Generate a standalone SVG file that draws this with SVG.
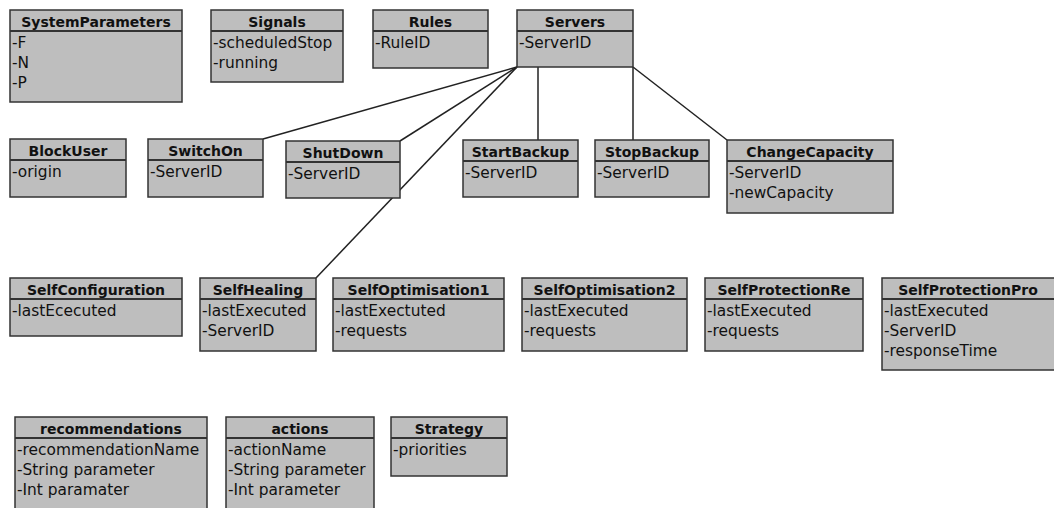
<svg xmlns="http://www.w3.org/2000/svg" width="1054" height="508" viewBox="0 0 1054 508">
<style>
.box{fill:#bebebe;stroke:#333;stroke-width:1.5}
.sep{stroke:#333;stroke-width:2}
.t{font-family:"DejaVu Sans","Liberation Sans",sans-serif;font-size:14px;font-weight:bold;fill:#111;text-anchor:middle}
.a{font-family:"DejaVu Sans","Liberation Sans",sans-serif;font-size:15.4px;fill:#111}
.c{stroke:#222;stroke-width:1.5;fill:none}
</style>
<rect width="1054" height="508" fill="#fff"/>
<g id="connectors">
<line class="c" x1="517" y1="67" x2="263" y2="139"/>
<line class="c" x1="517" y1="67" x2="400" y2="141"/>
<line class="c" x1="517" y1="67" x2="316" y2="278"/>
<line class="c" x1="538" y1="67" x2="538" y2="140"/>
<line class="c" x1="633" y1="67" x2="633" y2="140"/>
<line class="c" x1="633" y1="67" x2="727" y2="140"/>
</g>
<g id="SystemParameters"><rect class="box" x="10" y="10" width="172" height="92"/><line class="sep" x1="10" y1="31" x2="182" y2="31"/><text class="t" x="96" y="27">SystemParameters</text><text class="a" x="12" y="48">-F</text><text class="a" x="12" y="68">-N</text><text class="a" x="12" y="88">-P</text></g>
<g id="Signals"><rect class="box" x="211" y="10" width="132" height="72"/><line class="sep" x1="211" y1="31" x2="343" y2="31"/><text class="t" x="277" y="27">Signals</text><text class="a" x="213" y="48">-scheduledStop</text><text class="a" x="213" y="68">-running</text></g>
<g id="Rules"><rect class="box" x="373" y="10" width="115" height="58"/><line class="sep" x1="373" y1="31" x2="488" y2="31"/><text class="t" x="430.5" y="27">Rules</text><text class="a" x="375" y="48">-RuleID</text></g>
<g id="Servers"><rect class="box" x="517" y="10" width="116" height="57"/><line class="sep" x1="517" y1="31" x2="633" y2="31"/><text class="t" x="575" y="27">Servers</text><text class="a" x="519" y="48">-ServerID</text></g>
<g id="BlockUser"><rect class="box" x="10" y="139" width="116" height="58"/><line class="sep" x1="10" y1="160" x2="126" y2="160"/><text class="t" x="68" y="156">BlockUser</text><text class="a" x="12" y="177">-origin</text></g>
<g id="SwitchOn"><rect class="box" x="148" y="139" width="115" height="58"/><line class="sep" x1="148" y1="160" x2="263" y2="160"/><text class="t" x="205.5" y="156">SwitchOn</text><text class="a" x="150" y="177">-ServerID</text></g>
<g id="ShutDown"><rect class="box" x="286" y="141" width="114" height="57"/><line class="sep" x1="286" y1="162" x2="400" y2="162"/><text class="t" x="343" y="158">ShutDown</text><text class="a" x="288" y="179">-ServerID</text></g>
<g id="StartBackup"><rect class="box" x="463" y="140" width="115" height="57"/><line class="sep" x1="463" y1="161" x2="578" y2="161"/><text class="t" x="520.5" y="157">StartBackup</text><text class="a" x="465" y="178">-ServerID</text></g>
<g id="StopBackup"><rect class="box" x="595" y="140" width="114" height="57"/><line class="sep" x1="595" y1="161" x2="709" y2="161"/><text class="t" x="652" y="157">StopBackup</text><text class="a" x="597" y="178">-ServerID</text></g>
<g id="ChangeCapacity"><rect class="box" x="727" y="140" width="166" height="73"/><line class="sep" x1="727" y1="161" x2="893" y2="161"/><text class="t" x="810" y="157">ChangeCapacity</text><text class="a" x="729" y="178">-ServerID</text><text class="a" x="729" y="198">-newCapacity</text></g>
<g id="SelfConfiguration"><rect class="box" x="10" y="278" width="172" height="58"/><line class="sep" x1="10" y1="299" x2="182" y2="299"/><text class="t" x="96" y="295">SelfConfiguration</text><text class="a" x="12" y="316">-lastEcecuted</text></g>
<g id="SelfHealing"><rect class="box" x="200" y="278" width="116" height="73"/><line class="sep" x1="200" y1="299" x2="316" y2="299"/><text class="t" x="258" y="295">SelfHealing</text><text class="a" x="202" y="316">-lastExecuted</text><text class="a" x="202" y="336">-ServerID</text></g>
<g id="SelfOptimisation1"><rect class="box" x="333" y="278" width="171" height="73"/><line class="sep" x1="333" y1="299" x2="504" y2="299"/><text class="t" x="418.5" y="295">SelfOptimisation1</text><text class="a" x="335" y="316">-lastExectuted</text><text class="a" x="335" y="336">-requests</text></g>
<g id="SelfOptimisation2"><rect class="box" x="522" y="278" width="165" height="73"/><line class="sep" x1="522" y1="299" x2="687" y2="299"/><text class="t" x="604.5" y="295">SelfOptimisation2</text><text class="a" x="524" y="316">-lastExecuted</text><text class="a" x="524" y="336">-requests</text></g>
<g id="SelfProtectionRe"><rect class="box" x="705" y="278" width="158" height="73"/><line class="sep" x1="705" y1="299" x2="863" y2="299"/><text class="t" x="784" y="295">SelfProtectionRe</text><text class="a" x="707" y="316">-lastExecuted</text><text class="a" x="707" y="336">-requests</text></g>
<g id="SelfProtectionPro"><rect class="box" x="882" y="278" width="180" height="92"/><line class="sep" x1="882" y1="299" x2="1062" y2="299"/><text class="t" x="968" y="295">SelfProtectionPro</text><text class="a" x="884" y="316">-lastExecuted</text><text class="a" x="884" y="336">-ServerID</text><text class="a" x="884" y="356">-responseTime</text></g>
<g id="recommendations"><rect class="box" x="15" y="417" width="192" height="96"/><line class="sep" x1="15" y1="438" x2="207" y2="438"/><text class="t" x="111" y="434">recommendations</text><text class="a" x="17" y="455">-recommendationName</text><text class="a" x="17" y="475">-String parameter</text><text class="a" x="17" y="495">-Int paramater</text></g>
<g id="actions"><rect class="box" x="226" y="417" width="148" height="96"/><line class="sep" x1="226" y1="438" x2="374" y2="438"/><text class="t" x="300" y="434">actions</text><text class="a" x="228" y="455">-actionName</text><text class="a" x="228" y="475">-String parameter</text><text class="a" x="228" y="495">-Int parameter</text></g>
<g id="Strategy"><rect class="box" x="391" y="417" width="116" height="59"/><line class="sep" x1="391" y1="438" x2="507" y2="438"/><text class="t" x="449" y="434">Strategy</text><text class="a" x="393" y="455">-priorities</text></g>
</svg>
